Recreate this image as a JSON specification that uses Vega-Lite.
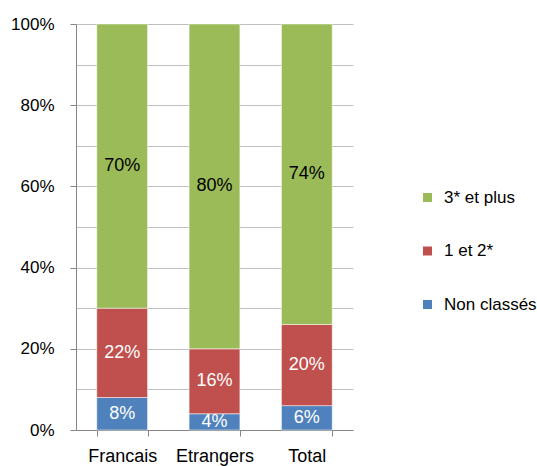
{
  "$schema": "https://vega.github.io/schema/vega-lite/v6.json",
  "autosize": "none",
  "width": 277,
  "height": 406,
  "padding": {"left": 76, "top": 24, "right": 184, "bottom": 36},
  "background": "white",
  "config": {
    "font": "Liberation Sans",
    "view": {"stroke": null}
  },
  "data": {
    "values": [
      {"g": "Francais", "cat": "Non classés", "rang": 1, "v": 0.08},
      {"g": "Francais", "cat": "1 et 2*", "rang": 2, "v": 0.22},
      {"g": "Francais", "cat": "3* et plus", "rang": 3, "v": 0.70},
      {"g": "Etrangers", "cat": "Non classés", "rang": 1, "v": 0.04},
      {"g": "Etrangers", "cat": "1 et 2*", "rang": 2, "v": 0.16},
      {"g": "Etrangers", "cat": "3* et plus", "rang": 3, "v": 0.80},
      {"g": "Total", "cat": "Non classés", "rang": 1, "v": 0.06},
      {"g": "Total", "cat": "1 et 2*", "rang": 2, "v": 0.20},
      {"g": "Total", "cat": "3* et plus", "rang": 3, "v": 0.74}
    ]
  },
  "transform": [
    {"stack": "v", "groupby": ["g"], "sort": [{"field": "rang", "order": "ascending"}], "as": ["v0", "v1"]}
  ],
  "encoding": {
    "x": {
      "field": "g", "type": "nominal", "sort": ["Francais", "Etrangers", "Total"],
      "scale": {"paddingInner": 0.45, "paddingOuter": 0.225},
      "axis": {
        "title": null, "labelAngle": 0, "labelFontSize": 18, "labelColor": "black",
        "tickBand": "extent", "tickSize": 6, "tickColor": "#868686",
        "domainColor": "#868686", "labelPadding": 11, "grid": false
      }
    }
  },
  "layer": [
    {
      "mark": {"type": "bar", "stroke": "white", "strokeWidth": 0.5},
      "encoding": {
        "y": {
          "field": "v1", "type": "quantitative",
          "scale": {"domain": [0, 1], "nice": false},
          "axis": {
            "title": null,
            "values": [0, 0.1, 0.2, 0.3, 0.4, 0.5, 0.6, 0.7, 0.8, 0.9, 1],
            "labelExpr": "round(datum.value*10) % 2 === 0 ? format(datum.value, '.0%') : ''",
            "labelFontSize": 17, "labelColor": "black", "labelPadding": 16,
            "tickSize": 6, "tickColor": "#868686",
            "tickOpacity": {"condition": {"test": "round(datum.value*10) % 2 === 0", "value": 1}, "value": 0},
            "domainColor": "#868686", "gridColor": "#bfbfbf", "grid": true
          }
        },
        "y2": {"field": "v0"},
        "color": {
          "field": "cat", "type": "nominal",
          "scale": {"domain": ["3* et plus", "1 et 2*", "Non classés"], "range": ["#9BBB59", "#C0504D", "#4F81BD"]},
          "legend": {
            "title": null, "orient": "none", "legendX": 343, "legendY": 165,
            "symbolType": "square", "symbolSize": 81, "symbolStrokeWidth": 0,
            "labelFontSize": 17, "labelColor": "black", "labelOffset": 8,
            "rowPadding": 35.5, "padding": 0
          }
        }
      }
    },
    {
      "mark": {
        "type": "text", "fontSize": 18, "baseline": "middle",
        "dy": {"expr": "(scale('y', datum.v0) - scale('y', datum.v1)) / 2"}
      },
      "encoding": {
        "y": {"field": "v1", "type": "quantitative"},
        "text": {"field": "v", "type": "quantitative", "format": ".0%"},
        "color": {"condition": {"test": "datum.cat === '3* et plus'", "value": "black"}, "value": "white"}
      }
    }
  ]
}
